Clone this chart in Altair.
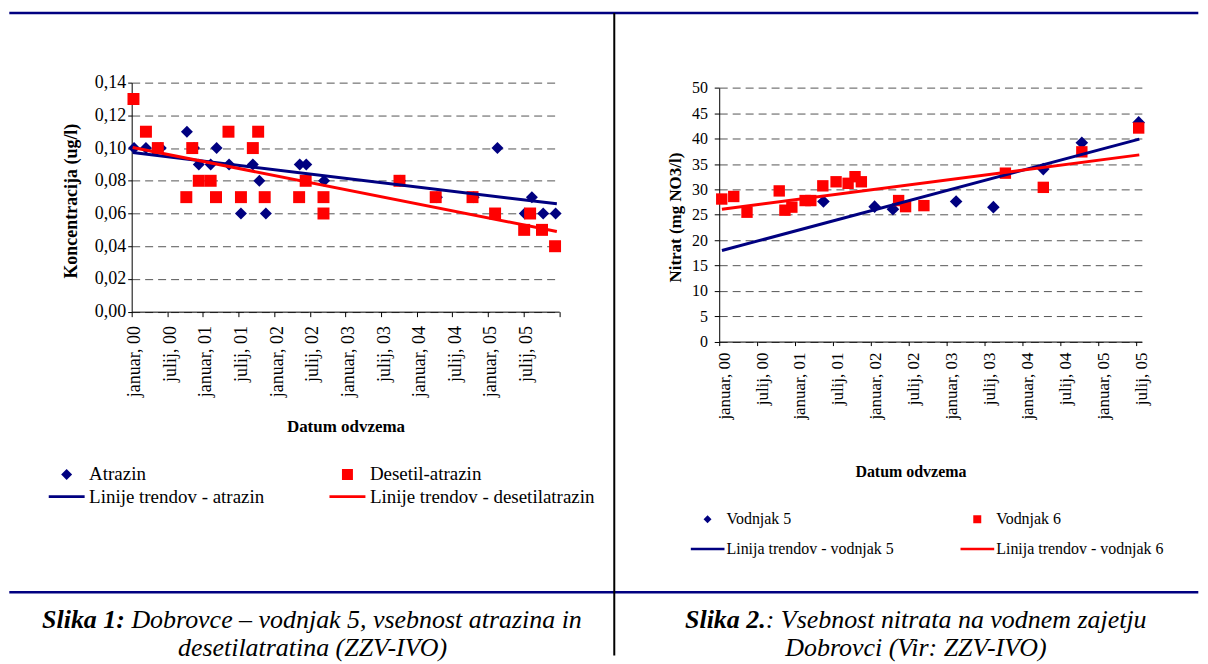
import altair as alt
import pandas as pd

FONT = "'Liberation Serif', 'Times New Roman', Times, serif"
NAVY = "#000080"
RED = "#FF0000"
BAR = "M-1,-0.075L1,-0.075L1,0.075L-1,0.075Z"

# ---------------- Panel 1: atrazin / desetil-atrazin ----------------
p1_series = ["Atrazin", "Desetil-atrazin",
             "Linije trendov - atrazin", "Linije trendov - desetilatrazin"]
# months since januar 2000
atr_month = [0.4, 2.4, 4.9, 9.3, 10.5, 11.3, 13.3, 14.3, 16.4, 18.4, 20.4, 21.5,
             22.6, 28.3, 29.4, 32.4, 45.2, 51.4, 57.6, 61.6, 66.2, 67.4, 69.3, 71.4]
atr_val = [0.10, 0.10, 0.10, 0.11, 0.10, 0.09, 0.09, 0.10, 0.09, 0.06, 0.09, 0.08,
           0.06, 0.09, 0.09, 0.08, 0.08, 0.07, 0.07, 0.10, 0.06, 0.07, 0.06, 0.06]
des_month = [0.3, 2.4, 4.4, 9.2, 10.2, 11.3, 13.3, 14.2, 16.3, 18.4, 20.4, 21.3, 22.4,
             28.2, 29.3, 32.3, 32.3, 45.1, 51.2, 57.4, 61.2, 66.1, 67.1, 69.1, 71.3]
des_val = [0.13, 0.11, 0.10, 0.07, 0.10, 0.08, 0.08, 0.07, 0.11, 0.07, 0.10, 0.11, 0.07,
           0.07, 0.08, 0.07, 0.06, 0.08, 0.07, 0.07, 0.06, 0.05, 0.06, 0.05, 0.04]
p1_trend_month = [0.17, 71.6]
atr_trend = [0.0973, 0.0659]
des_trend = [0.1004, 0.0490]
p1_xticks = [0, 6, 12, 18, 24, 30, 36, 42, 48, 54, 60, 66, 72]
p1_yticks = [0.0, 0.02, 0.04, 0.06, 0.08, 0.10, 0.12, 0.14]

# ---------------- Panel 2: nitrat ----------------
p2_series = ["Vodnjak 5", "Vodnjak 6",
             "Linija trendov - vodnjak 5", "Linija trendov - vodnjak 6"]
v5_month = [16.5, 24.6, 27.5, 37.5, 43.4, 51.3, 57.4, 66.4]
v5_val = [27.6, 26.6, 26.1, 27.6, 26.5, 34.0, 39.2, 43.2]
v6_month = [0.4, 2.3, 4.4, 9.5, 10.4, 11.5, 13.6, 14.5, 16.4, 18.5, 20.4, 21.5, 22.5,
            28.4, 29.5, 32.4, 45.3, 51.3, 57.4, 66.4]
v6_val = [28.1, 28.6, 25.5, 29.7, 25.9, 26.5, 27.8, 27.8, 30.7, 31.5, 31.2, 32.5, 31.5,
          27.8, 26.6, 26.8, 33.2, 30.4, 37.4, 42.1]
p2_trend_month = [0.43, 66.5]
v5_trend = [17.95, 39.9]
v6_trend = [26.1, 36.8]
p2_xticks = [0, 6, 12, 18, 24, 30, 36, 42, 48, 54, 60, 66]
p2_yticks = [0, 5, 10, 15, 20, 25, 30, 35, 40, 45, 50]

captions = {
    "c1_bold": "Slika 1:",
    "c1_rest": "Dobrovce \u2013 vodnjak 5, vsebnost atrazina in",
    "c1_line2": "desetilatratina (ZZV-IVO)",
    "c2_bold": "Slika 2.",
    "c2_rest": ": Vsebnost nitrata na vodnem zajetju",
    "c2_line2": "Dobrovci (Vir: ZZV-IVO)",
}

# ---------------- tables ----------------
atr_df = pd.DataFrame({"month": atr_month, "value": atr_val})
des_df = pd.DataFrame({"month": des_month, "value": des_val})
tr1a = pd.DataFrame({"month": p1_trend_month, "value": atr_trend})
tr1d = pd.DataFrame({"month": p1_trend_month, "value": des_trend})
v5_df = pd.DataFrame({"month": v5_month, "value": v5_val})
v6_df = pd.DataFrame({"month": v6_month, "value": v6_val})
tr2a = pd.DataFrame({"month": p2_trend_month, "value": v5_trend})
tr2b = pd.DataFrame({"month": p2_trend_month, "value": v6_trend})

one = alt.Data(values=[{"k": 1}])

month_label = ("(datum.value % 12 == 0 ? 'januar, ' : 'julij, ') + "
               "format(floor(datum.value / 12), '02d')")


def legend_layer(series, field, legend, sym_small, sym_line):
    return alt.Chart(alt.Data(values=[{field: s} for s in series])).transform_filter(
        "false").mark_point(filled=True, strokeWidth=0, opacity=1).encode(
        color=alt.Color(field + ":N", scale=alt.Scale(domain=series, range=[NAVY, RED, NAVY, RED]),
                        legend=legend),
        shape=alt.Shape(field + ":N", scale=alt.Scale(domain=series,
                                                      range=["diamond", "square", BAR, BAR]),
                        legend=legend),
        size=alt.Size(field + ":N", scale=alt.Scale(type="ordinal", domain=series,
                                                    range=[sym_small, sym_small, sym_line, sym_line]),
                      legend=legend),
    )


# ---------------- panel 1 encodings ----------------
x1 = alt.X("month:Q",
           scale=alt.Scale(domain=[0, 72], nice=False, zero=False),
           axis=alt.Axis(values=p1_xticks,
                         labelExpr="datum.value >= 72 ? '' : " + month_label,
                         title="Datum odvzema", titleX=214.3, titleY=115.4,
                         titleBaseline="middle", titleFontSize=17, titleFontWeight="bold",
                         labelAngle=270, labelAlign="right", labelBaseline="middle",
                         labelFontSize=18, labelPadding=9, labelOffset=3, tickSize=5,
                         labelFlush=False, labelOverlap=False, grid=False))
y1 = alt.Y("value:Q",
           scale=alt.Scale(domain=[0, 0.14], nice=False, zero=True),
           axis=alt.Axis(values=p1_yticks,
                         labelExpr="replace(format(datum.value, '.2f'), '.', ',')",
                         title="Koncentracija (ug/l)", titleX=-60.7, titleY=118.3,
                         titleAngle=270, titleBaseline="middle", titleFontSize=18,
                         titleFontWeight="bold", labelFontSize=18, tickSize=4,
                         labelPadding=2, labelFlush=False, labelOverlap=False, grid=True))

legend1 = alt.Legend(title=None, orient="none", legendX=-83.7, legendY=383.1, columns=2,
                     direction="horizontal",
                     labelFont=FONT, labelFontSize=19, labelColor="black",
                     symbolStrokeWidth=0, clipHeight=19,
                     rowPadding=2.4, columnPadding=64.5, labelOffset=4, labelLimit=600,
                     padding=0)

pts_atr = alt.Chart(atr_df).mark_point(filled=True, shape="diamond", color=NAVY, size=144,
                                       opacity=1, strokeWidth=0).encode(x=x1, y=y1)
pts_des = alt.Chart(des_df).mark_point(filled=True, shape="square", color=RED, size=144,
                                       opacity=1, strokeWidth=0).encode(x=x1, y=y1)
line1a = alt.Chart(tr1a).mark_line(color=NAVY, strokeWidth=3).encode(x=x1, y=y1)
line1d = alt.Chart(tr1d).mark_line(color=RED, strokeWidth=3).encode(x=x1, y=y1)
leg1 = legend_layer(p1_series, "s1", legend1, 121, 1300)

# frame / captions (panel 1 origin = page (130.7, 81.7))
anchor = alt.Chart(one).mark_rect(opacity=0).encode(
    x=alt.value(-122.7), x2=alt.value(1069.3), y=alt.value(-73.7), y2=alt.value(574.3))
top_rule = alt.Chart(one).mark_rule(color=NAVY, strokeWidth=2.5).encode(
    x=alt.value(-122.7), x2=alt.value(1069.3), y=alt.value(-69.7))
bottom_rule = alt.Chart(one).mark_rule(color=NAVY, strokeWidth=2.5).encode(
    x=alt.value(-122.7), x2=alt.value(1069.3), y=alt.value(510.8))
v_rule = alt.Chart(one).mark_rule(color="black", strokeWidth=2).encode(
    x=alt.value(483.8), y=alt.value(-69.7), y2=alt.value(574.3))


def caption(text, x, y, align, bold):
    return alt.Chart(one).mark_text(
        font=FONT, fontSize=26, fontStyle="italic",
        fontWeight="bold" if bold else "normal",
        align=align, baseline="middle", color="black",
    ).encode(x=alt.value(x), y=alt.value(y), text=alt.value(text))


cap1 = [
    caption(captions["c1_bold"], -6.8, 539.0, "right", True),
    caption(captions["c1_rest"], -0.3, 539.0, "left", False),
    caption(captions["c1_line2"], 181.3, 567.0, "center", False),
]

left = alt.layer(anchor, leg1, pts_atr, pts_des, line1a, line1d,
                 top_rule, bottom_rule, v_rule, *cap1).properties(width=428.6, height=229.6)

# ---------------- panel 2 encodings ----------------
x2 = alt.X("month:Q",
           scale=alt.Scale(domain=[0, 66.9], nice=False, zero=False),
           axis=alt.Axis(values=p2_xticks, labelExpr=month_label,
                         title="Datum odvzema", titleX=191.7, titleY=130.4,
                         titleBaseline="middle", titleFontSize=16, titleFontWeight="bold",
                         labelAngle=270, labelAlign="right", labelBaseline="middle",
                         labelFontSize=17, labelPadding=6.5, labelOffset=5, tickSize=4,
                         labelFlush=False, labelOverlap=False, grid=False))
y2 = alt.Y("value:Q",
           scale=alt.Scale(domain=[0, 50], range=[259.6, 5.3], nice=False, zero=True),
           axis=alt.Axis(values=p2_yticks, format="d",
                         title="Nitrat (mg NO3/l)", titleX=-43.8, titleY=134.8,
                         titleAngle=270, titleBaseline="middle", titleFontSize=17,
                         titleFontWeight="bold", labelFontSize=16, tickSize=5,
                         labelPadding=6.7, labelFlush=False, labelOverlap=False, grid=True))

legend2 = alt.Legend(title=None, orient="none", legendX=-28.7, legendY=429.6, columns=2,
                     direction="horizontal",
                     labelFont=FONT, labelFontSize=16, labelColor="black",
                     symbolStrokeWidth=0, clipHeight=16,
                     rowPadding=14, columnPadding=66.4, labelOffset=2, labelLimit=600,
                     padding=0)

pts_v5 = alt.Chart(v5_df).mark_point(filled=True, shape="diamond", color=NAVY, size=160,
                                     opacity=1, strokeWidth=0).encode(x=x2, y=y2)
pts_v6 = alt.Chart(v6_df).mark_point(filled=True, shape="square", color=RED, size=130,
                                     opacity=1, strokeWidth=0).encode(x=x2, y=y2)
line2a = alt.Chart(tr2a).mark_line(color=NAVY, strokeWidth=3).encode(x=x2, y=y2)
line2b = alt.Chart(tr2b).mark_line(color=RED, strokeWidth=3).encode(x=x2, y=y2)
leg2 = legend_layer(p2_series, "s2", legend2, 64, 1156)

cap2 = [
    caption(captions["c2_bold"], 46.6, 539.0, "right", True),
    caption(captions["c2_rest"], 46.6, 539.0, "left", False),
    caption(captions["c2_line2"], 197.2, 567.0, "center", False),
]

right = alt.layer(leg2, pts_v5, pts_v6, line2a, line2b, *cap2).properties(
    width=423.7, height=259.6)

chart = alt.hconcat(left, right, spacing=160, bounds="flush").resolve_scale(
    color="independent", shape="independent", size="independent"
).resolve_legend(
    color="independent", shape="independent", size="independent"
).properties(
    padding={"left": 0, "top": 0, "right": 0, "bottom": 0}
).configure_view(stroke=None).configure_axis(
    labelFont=FONT, titleFont=FONT, labelColor="black", titleColor="black",
    domainColor="black", tickColor="black", domainWidth=1, tickWidth=1,
    gridColor="#555555", gridDash=[8, 5], gridWidth=1,
).configure_text(font=FONT).configure_legend(labelFont=FONT)

chart.save("out.html", embed_options={"renderer": "svg", "actions": False})
